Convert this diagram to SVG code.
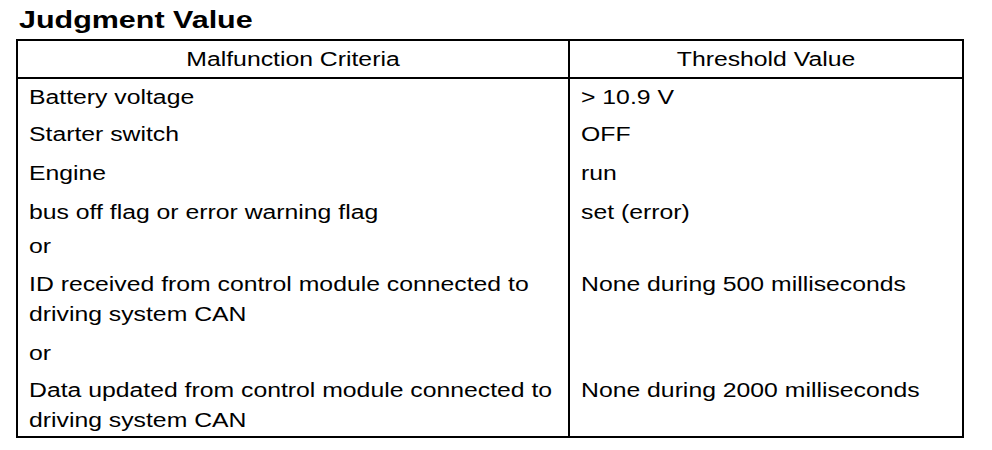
<svg xmlns="http://www.w3.org/2000/svg" width="992" height="450" viewBox="0 0 992 450">
<style>
text{font-family:"Liberation Sans",Arial,sans-serif;fill:#000}
.t{font-size:24px;font-weight:bold}
.b{font-size:21px}
.h{font-size:21px;text-anchor:middle}
.ln{stroke:#000;stroke-width:2;fill:none}
</style>
<rect width="992" height="450" fill="#fff"/>
<g id="title" transform="translate(19 0) scale(1.27 1)">
<text class="t" x="0" y="28">Judgment Value</text>
</g>
<g id="table">
<rect class="ln" x="17" y="40" width="946" height="397"/>
<line class="ln" x1="17" y1="78" x2="963" y2="78"/>
<line class="ln" x1="569" y1="40" x2="569" y2="437"/>
</g>
<g id="header-criteria" transform="translate(293 0) scale(1.18 1)">
<text class="h" x="0" y="66">Malfunction Criteria</text>
</g>
<g id="header-threshold" transform="translate(766 0) scale(1.18 1)">
<text class="h" x="0" y="66">Threshold Value</text>
</g>
<g id="criteria" transform="translate(29 0) scale(1.18 1)">
<text class="b" x="0" y="104">Battery voltage</text>
<text class="b" x="0" y="141">Starter switch</text>
<text class="b" x="0" y="180">Engine</text>
<text class="b" x="0" y="219">bus off flag or error warning flag</text>
<text class="b" x="0" y="253">or</text>
<text class="b" x="0" y="291">ID received from control module connected to</text>
<text class="b" x="0" y="321">driving system CAN</text>
<text class="b" x="0" y="360">or</text>
<text class="b" x="0" y="397">Data updated from control module connected to</text>
<text class="b" x="0" y="427">driving system CAN</text>
</g>
<g id="thresholds" transform="translate(581 0) scale(1.18 1)">
<text class="b" x="0" y="104">&gt; 10.9 V</text>
<text class="b" x="0" y="141">OFF</text>
<text class="b" x="0" y="180">run</text>
<text class="b" x="0" y="219">set (error)</text>
<text class="b" x="0" y="291">None during 500 milliseconds</text>
<text class="b" x="0" y="397">None during 2000 milliseconds</text>
</g>
</svg>
